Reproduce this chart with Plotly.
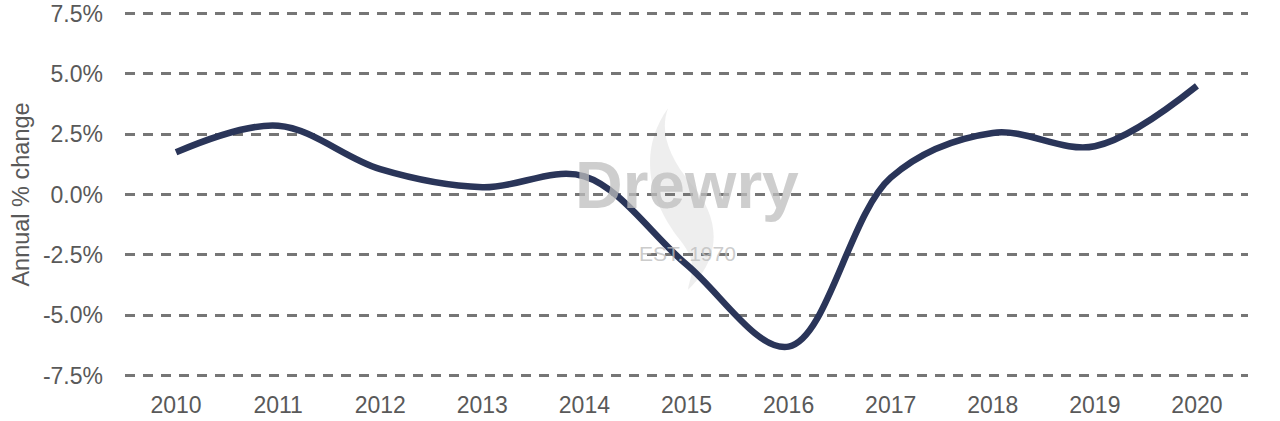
import plotly.graph_objects as go

years = ["2010", "2011", "2012", "2013", "2014", "2015", "2016", "2017", "2018", "2019", "2020"]
annual_change = [1.75, 2.85, 1.05, 0.3, 0.75, -2.9, -6.3, 0.7, 2.55, 2.0, 4.5]
y_ticks = [-7.5, -5.0, -2.5, 0.0, 2.5, 5.0, 7.5]
y_tick_labels = ["-7.5%", "-5.0%", "-2.5%", "0.0%", "2.5%", "5.0%", "7.5%"]

W, H = 1280, 421
L, R, T, B = 125, 32, 11.5, 43.5
pw, ph = W - L - R, H - T - B

def px(x):
    return (x - L) / pw

def py(y):
    return (H - B - y) / ph

fig = go.Figure()

# faint flame of the watermark
flame = (f"M {px(668)} {py(108)} "
         f"C {px(638)} {py(150)}, {px(648)} {py(200)}, {px(680)} {py(240)} "
         f"C {px(700)} {py(265)}, {px(690)} {py(275)}, {px(688)} {py(290)} "
         f"C {px(725)} {py(255)}, {px(718)} {py(215)}, {px(692)} {py(185)} "
         f"C {px(667)} {py(155)}, {px(660)} {py(130)}, {px(668)} {py(108)} Z")
fig.add_shape(type="path", path=flame, xref="paper", yref="paper",
              fillcolor="rgba(205,205,205,0.35)", line=dict(width=0), layer="below")

fig.add_annotation(text="<b>Drewry</b>", xref="paper", yref="paper",
                   x=px(687), y=py(185), showarrow=False,
                   font=dict(family="Liberation Sans, Arial", size=66, color="rgba(190,190,190,0.75)"))
fig.add_annotation(text="EST. 1970", xref="paper", yref="paper",
                   x=px(687), y=py(254), showarrow=False,
                   font=dict(family="Liberation Sans, Arial", size=21, color="rgba(190,190,190,0.8)"))

fig.add_trace(go.Scatter(
    x=years, y=annual_change, mode="lines",
    line=dict(color="#2a3559", width=6.5, shape="spline", smoothing=1.0),
    hoverinfo="x+y",
))

fig.update_layout(
    width=W, height=H,
    margin=dict(l=L, r=R, t=T, b=B, autoexpand=False),
    paper_bgcolor="white", plot_bgcolor="white",
    showlegend=False,
    font=dict(family="Liberation Sans, Arial", size=23, color="#595959"),
)
fig.update_xaxes(
    type="category", range=[-0.5, 10.5], automargin=False,
    showgrid=False, zeroline=False, showline=False,
    ticks="", ticklabelstandoff=12,
    tickfont=dict(size=23, color="#595959"),
)
fig.update_yaxes(
    range=[-7.56, 7.56], tickvals=y_ticks, ticktext=y_tick_labels, automargin=False,
    showgrid=True, gridcolor="#767676", gridwidth=2.5, griddash="10px,8px",
    zeroline=False, showline=False, ticks="", ticklabelstandoff=21,
    tickfont=dict(size=23, color="#595959"),
    title=dict(text="Annual % change", font=dict(size=23.5, color="#595959"), standoff=6),
)

fig.write_html("out.html", config={"displayModeBar": False},
               post_script="document.body.style.margin='0';")
